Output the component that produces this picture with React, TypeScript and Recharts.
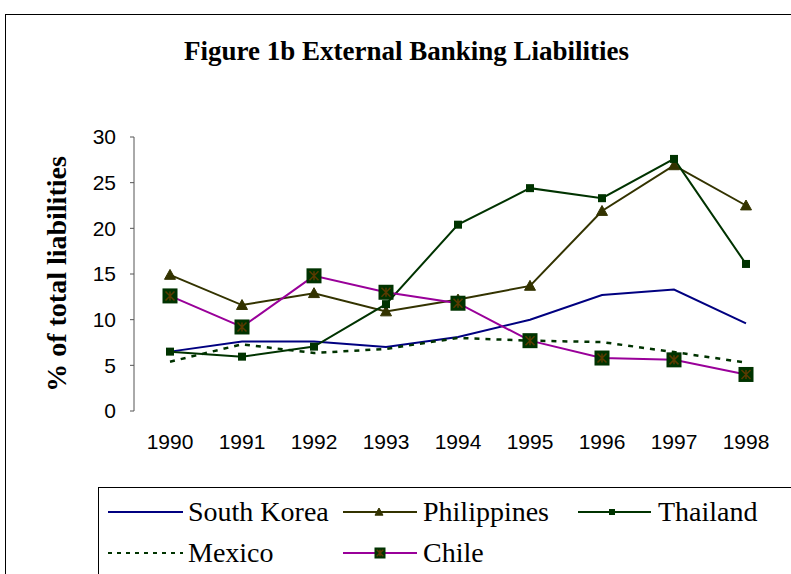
import React from 'react';
import { LineChart, Line, XAxis, YAxis, Legend, Label } from 'recharts';

const years = ['1990', '1991', '1992', '1993', '1994', '1995', '1996', '1997', '1998'];
const southKorea = [6.5, 7.6, 7.6, 7.0, 8.1, 10.0, 12.7, 13.3, 9.6];
const philippines = [14.9, 11.6, 12.9, 10.9, 12.2, 13.7, 21.9, 26.9, 22.5];
const thailand = [6.5, 5.95, 7.05, 11.7, 20.4, 24.4, 23.3, 27.6, 16.1];
const mexico = [5.4, 7.3, 6.35, 6.8, 8.0, 7.7, 7.55, 6.45, 5.3];
const chile = [12.6, 9.2, 14.8, 13.0, 11.8, 7.7, 5.8, 5.6, 4.0];
const yTicks = [0, 5, 10, 15, 20, 25, 30];
const edgeTicks = [0, 1, 2, 3, 4, 5, 6, 7, 8, 9];

const data = years.map((year, i) => ({
  year,
  southKorea: southKorea[i],
  philippines: philippines[i],
  thailand: thailand[i],
  mexico: mexico[i],
  chile: chile[i],
}));

const W = 791;
const H = 574;
const SERIF = '"Liberation Serif", "Times New Roman", serif';
const SANS = '"Liberation Sans", Arial, sans-serif';

const NAVY = '#000080';
const OLIVE = '#333300';
const GREEN = '#003300';
const PURPLE = '#990099';

function triangle(cx: number, cy: number, r: number, key?: any) {
  return (
    <polygon
      key={key}
      points={`${cx},${cy - r} ${cx - r},${cy + r * 0.8} ${cx + r},${cy + r * 0.8}`}
      fill={OLIVE}
      stroke={OLIVE}
    />
  );
}

function smallSquare(cx: number, cy: number, s: number, key?: any) {
  return <rect key={key} x={cx - s / 2} y={cy - s / 2} width={s} height={s} fill={GREEN} />;
}

function chileMark(cx: number, cy: number, s: number, key?: any) {
  const h = s / 2;
  const a = h * 0.6;
  return (
    <g key={key}>
      <rect x={cx - h} y={cy - h} width={s} height={s} fill={GREEN} />
      <path
        d={`M${cx - a},${cy - a}L${cx + a},${cy + a}M${cx + a},${cy - a}L${cx - a},${cy + a}M${cx},${cy - a}L${cx},${cy + a}`}
        stroke="#5a3a00"
        strokeWidth={1.5}
      />
    </g>
  );
}

const PhilDot = (p: any) => triangle(p.cx, p.cy, 5.5, p.key);
const ThaiDot = (p: any) => smallSquare(p.cx, p.cy, 8, p.key);
const ChileDot = (p: any) => chileMark(p.cx, p.cy, 15, p.key);

function LegendBox() {
  const text = { fontFamily: SERIF, fontSize: 28, fill: '#000' } as const;
  const r1 = 24;
  const r2 = 65;
  return (
    <div style={{ width: 720, height: 110, border: '1px solid #000', background: '#fff' }}>
      <svg width={720} height={110}>
        <line x1={9} x2={84} y1={r1} y2={r1} stroke={NAVY} strokeWidth={2} />
        <text x={89} y={r1 + 9} style={text}>South Korea</text>
        <line x1={244} x2={318} y1={r1} y2={r1} stroke={OLIVE} strokeWidth={2} />
        {triangle(280, r1, 4)}
        <text x={324} y={r1 + 9} style={text}>Philippines</text>
        <line x1={479} x2={552} y1={r1} y2={r1} stroke={GREEN} strokeWidth={2} />
        {smallSquare(513, r1, 6)}
        <text x={559} y={r1 + 9} style={text}>Thailand</text>
        <line x1={9} x2={84} y1={r2} y2={r2} stroke={GREEN} strokeWidth={2} strokeDasharray="4 5" />
        <text x={89} y={r2 + 9} style={text}>Mexico</text>
        <line x1={244} x2={318} y1={r2} y2={r2} stroke={PURPLE} strokeWidth={2} />
        {chileMark(281, r2, 11)}
        <text x={324} y={r2 + 9} style={text}>Chile</text>
      </svg>
    </div>
  );
}

const renderYLabel = (props: any) => {
  const vb = props.viewBox;
  const x = vb.x - 24;
  const y = vb.y + vb.height / 2;
  return (
    <text
      x={x}
      y={y}
      transform={`rotate(-90 ${x} ${y})`}
      textAnchor="middle"
      dominantBaseline="middle"
      style={{ fontFamily: SERIF, fontWeight: 'bold', fontSize: 28, fill: '#000' }}
    >
      % of total liabilities
    </text>
  );
};

export default function App() {
  return (
    <div style={{ position: 'absolute', left: 0, top: 0, width: W, height: H, overflow: 'hidden', background: '#fff' }}>
      <div style={{ position: 'absolute', left: 5, top: 14, width: 830, height: 620, border: '1.5px solid #000' }} />
      <div
        style={{
          position: 'absolute',
          left: 11,
          top: 36,
          width: W,
          textAlign: 'center',
          fontFamily: SERIF,
          fontWeight: 'bold',
          fontSize: 27,
          color: '#000',
        }}
      >
        Figure 1b External Banking Liabilities
      </div>
      <div style={{ position: 'absolute', left: 0, top: 0 }}>
        <LineChart width={W} height={H} data={data} margin={{ top: 137, right: 9, bottom: 133, left: 84 }}>
          <XAxis
            xAxisId="edges"
            type="number"
            domain={[0, 9]}
            ticks={edgeTicks}
            tick={false}
            tickSize={6}
            height={0}
            axisLine={{ stroke: '#555' }}
            tickLine={{ stroke: '#555' }}
          />
          <XAxis
            dataKey="year"
            scale="band"
            height={30}
            axisLine={false}
            tickLine={false}
            tickSize={6}
            tickMargin={17}
            tick={{ fontFamily: SANS, fontSize: 21, fill: '#000' }}
          />
          <YAxis
            domain={[0, 30]}
            ticks={yTicks}
            width={50}
            tickSize={4}
            tickMargin={14}
            axisLine={{ stroke: '#555' }}
            tickLine={{ stroke: '#555' }}
            tick={{ fontFamily: SANS, fontSize: 21, fill: '#000' }}
            interval={0}
          >
            <Label content={renderYLabel} />
          </YAxis>
          <Line dataKey="southKorea" name="South Korea" stroke={NAVY} strokeWidth={2} dot={false} isAnimationActive={false} />
          <Line dataKey="philippines" name="Philippines" stroke={OLIVE} strokeWidth={2} dot={PhilDot} isAnimationActive={false} />
          <Line dataKey="thailand" name="Thailand" stroke={GREEN} strokeWidth={2} dot={ThaiDot} isAnimationActive={false} />
          <Line
            dataKey="mexico"
            name="Mexico"
            stroke={GREEN}
            strokeWidth={2.5}
            strokeDasharray="5 6"
            dot={false}
            isAnimationActive={false}
          />
          <Line dataKey="chile" name="Chile" stroke={PURPLE} strokeWidth={2} dot={ChileDot} isAnimationActive={false} />
          <Legend
            layout="horizontal"
            verticalAlign="middle"
            align="center"
            wrapperStyle={{ left: 98, top: 487, width: 720, height: 110 }}
            content={() => <LegendBox />}
          />
        </LineChart>
      </div>
    </div>
  );
}
